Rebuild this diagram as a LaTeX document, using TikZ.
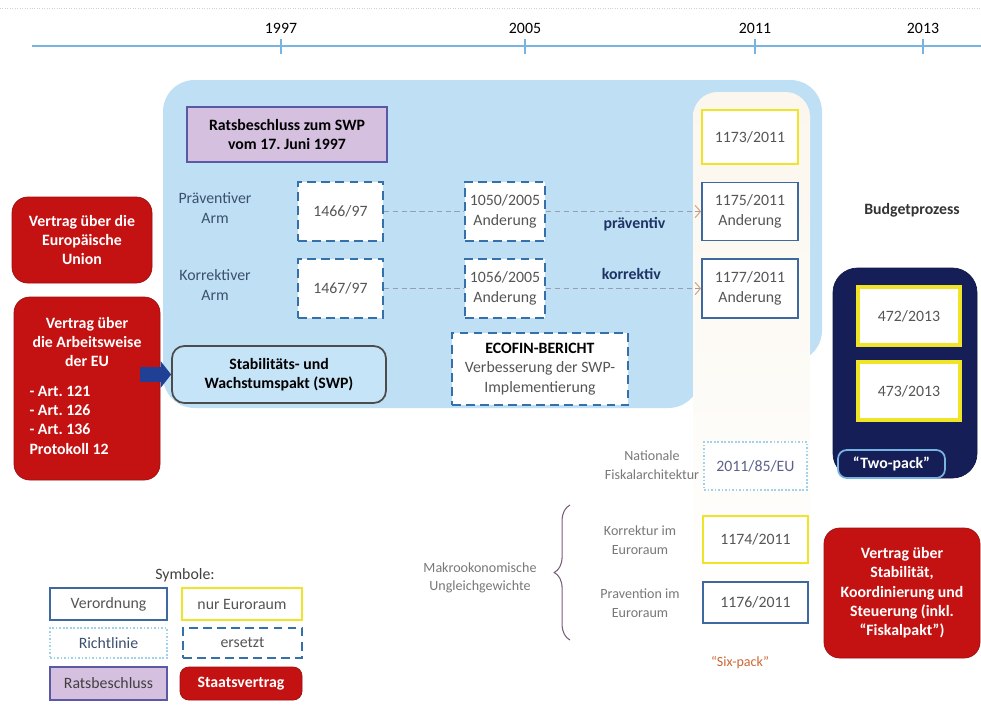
\documentclass[tikz,border=0pt]{standalone}
\usepackage{fontspec}
\setmainfont{Carlito}
\usetikzlibrary{arrows.meta, decorations.pathreplacing}

\definecolor{swpblue}{RGB}{190,223,244}
\definecolor{swpbox}{RGB}{198,228,248}
\definecolor{colbeige}{RGB}{250,243,230}
\definecolor{vored}{RGB}{196,18,18}
\definecolor{navy}{RGB}{22,30,88}
\definecolor{lilac}{RGB}{214,192,224}
\definecolor{vodraw}{RGB}{62,104,160}
\definecolor{euyellow}{RGB}{240,228,40}
\definecolor{rlcyan}{RGB}{160,210,235}
\definecolor{dashblue}{RGB}{52,112,170}
\definecolor{armtext}{RGB}{60,80,110}
\definecolor{boxtext}{RGB}{85,85,85}
\definecolor{softtext}{RGB}{120,120,120}
\definecolor{linkgray}{RGB}{150,158,178}
\definecolor{tipbrown}{RGB}{215,165,120}
\definecolor{arrowblue}{RGB}{32,64,150}
\definecolor{timeblue}{RGB}{120,180,225}
\definecolor{armlinktext}{RGB}{30,50,100}

\newcommand{\boxfont}{\fontsize{9}{11}\selectfont}
\newcommand{\smallboxfont}{\fontsize{8}{10.5}\selectfont}

\tikzset{
  sz/.style 2 args={minimum width=#1*0.02cm, minimum height=#2*0.02cm},
  verordnung/.style={draw=vodraw, line width=1pt, fill=white, text=boxtext, align=center, inner sep=1pt},
  euroraum/.style={draw=euyellow, line width=1.2pt, fill=white, text=boxtext, align=center, inner sep=1pt},
  richtlinie/.style={draw=rlcyan, line width=.8pt, dash pattern=on 1pt off 1pt, fill=white, align=center, inner sep=1pt},
  ersetzt/.style={draw=dashblue, line width=1.3pt, dash pattern=on 5pt off 3pt, fill=white, text=boxtext, align=center, inner sep=1pt},
  ratsb/.style={draw=gray!70!blue, line width=.6pt, fill=lilac, align=center, inner sep=1pt},
  vertrag/.style={draw=vored!80!black, fill=vored, rounded corners=9pt, text=white, align=center, font=\boxfont\bfseries},
  armlabel/.style={text=armtext, align=center},
  softlabel/.style={text=softtext, align=center, font=\smallboxfont},
  armlink/.style={text=armlinktext, font=\boxfont\bfseries, inner sep=1pt},
  replaced/.style={draw=linkgray, line width=.6pt, dash pattern=on 3pt off 2pt},
  timeline/.style={draw=timeblue, line width=.9pt},
}

\begin{document}
\frenchspacing
\begin{tikzpicture}[x=0.02cm, y=-0.02cm, font=\boxfont]
\useasboundingbox (0,0) rectangle (981,718);

% time axis
\draw[gray!35, densely dotted] (0,8) -- (981,8);
\draw[timeline] (32,46) -- (981,46);
\foreach \x/\yr in {281/1997, 525/2005, 755/2011, 923/2013}{
  \draw[timeline] (\x,39) -- (\x,54);
  \node (y\yr) at (\x,28) {\yr};
}

% background: SWP area and column of 2011
\fill[swpblue, rounded corners=18pt] (163,80) -- (822,80) -- (822,362) -- (700,362) -- (700,408) -- (163,408) -- cycle;
\shade[top color=colbeige!70, middle color=colbeige, bottom color=white, rounded corners=14pt] (693,92) rectangle (810,650);

% treaties
\node[vertrag, sz={140}{86}] (euv) at (82,240) {Vertrag über die\\Europäische\\Union};
\node[vertrag, sz={146}{183}] (aeuv) at (87,388.5)
  {Vertrag über\\die Arbeitsweise\\der EU\\[8pt]
   \makebox[2.3cm][l]{\begin{tabular}{@{}l@{}}- Art. 121\\- Art. 126\\- Art. 136\\Protokoll 12\end{tabular}}};
\node[vertrag, sz={156}{130}] (tscg) at (902,593)
  {Vertrag über\\Stabilität,\\Koordinierung und\\Steuerung (inkl.\\“Fiskalpakt”)};

% SWP
\node[ratsb, font=\boxfont\bfseries, sz={200}{55}] (rats) at (287,134.5) {Ratsbeschluss zum SWP\\vom 17. Juni 1997};
\node[armlabel] (praev) at (215,208) {Präventiver\\Arm};
\node[armlabel] (korr) at (215,285) {Korrektiver\\Arm};
\node[ersetzt, sz={85}{59}] (r1466) at (340.5,211.5) {1466/97};
\node[ersetzt, sz={85}{59}] (r1467) at (340.5,288.5) {1467/97};
\node[ersetzt, sz={80}{59}] (r1050) at (505,211.5) {1050/2005\\Anderung};
\node[ersetzt, sz={80}{59}] (r1056) at (505,288.5) {1056/2005\\Anderung};
\node[euroraum, sz={96}{54}] (r1173) at (750,137) {1173/2011};
\node[verordnung, sz={96}{58}] (r1175) at (750,211.5) {1175/2011\\Anderung};
\node[verordnung, sz={96}{59}] (r1177) at (750,288.5) {1177/2011\\Anderung};
\node[draw=gray!60!black, line width=1pt, fill=swpbox, rounded corners=7pt, font=\boxfont\bfseries, align=center, sz={214}{57}] (swp) at (279,374.5)
  {Stabilitäts- und\\Wachstumspakt (SWP)};
\node[ersetzt, sz={176}{72}, text=boxtext] (ecofin) at (540,369)
  {\textcolor{black}{\bfseries ECOFIN-BERICHT}\\Verbesserung der SWP-\\Implementierung};

\draw[replaced] (r1466) -- (r1050);
\draw[replaced] (r1467) -- (r1056);
\draw[replaced, -{Straight Barb[length=3pt, width=7pt, color=tipbrown]}] (r1050) -- (r1175)
  node[pos=.57, below=2pt, armlink] {präventiv};
\draw[replaced, -{Straight Barb[length=3pt, width=7pt, color=tipbrown]}] (r1056) -- (r1177)
  node[pos=.55, above=4pt, armlink] {korrektiv};

\coordinate (aeuvout) at (140,374.5);
\draw[arrowblue, line width=9pt, -{Triangle[length=6pt, width=15pt]}] (aeuvout) -- (swp.west);

% two-pack
\node[font=\boxfont\bfseries, text=black!80] (budget) at (912,210) {Budgetprozess};
\node[fill=navy, draw=navy!80!black, rounded corners=14pt, sz={144}{210}] (twopack) at (905,373) {};
\node[draw=euyellow, line width=2pt, fill=white, text=boxtext, sz={102}{58}] (r472) at (909,316) {472/2013};
\node[draw=euyellow, line width=2pt, fill=white, text=boxtext, sz={102}{58}] (r473) at (909,391) {473/2013};
\node[draw=timeblue, line width=1pt, fill=navy, text=white, rounded corners=5pt, font=\boxfont\bfseries, sz={107}{28}] (twolabel) at (891.5,464) {“Two-pack”};

% six-pack
\node[softlabel] (fiskal) at (652,465) {Nationale\\Fiskalarchitektur};
\node[richtlinie, text=navy!70, sz={103}{48}] (r85) at (755.5,466) {2011/85/EU};
\node[softlabel] (makro) at (480,578) {Makrookonomische\\Ungleichgewichte};
\node[softlabel] (korrEuro) at (640,540) {Korrektur im\\Euroraum};
\node[softlabel] (praevEuro) at (640,603) {Pravention im\\Euroraum};
\node[euroraum, sz={105}{47}] (r1174) at (755.5,539.5) {1174/2011};
\node[verordnung, sz={105}{41}] (r1176) at (755.5,602.5) {1176/2011};
\draw[softtext!80!violet, line width=.6pt, decorate, decoration={brace, amplitude=9pt}] (570,640) -- (570,505);
\node[text=brown!80!red, font=\smallboxfont] (sixpack) at (740,663) {“Six-pack”};

% legend
\node[text=black!75] (symb) at (185,575) {Symbole:};
\node[verordnung, sz={117}{32}] (lvo) at (108.5,604) {Verordnung};
\node[euroraum, sz={120}{32}] (leu) at (242,604) {nur Euroraum};
\node[richtlinie, text=armtext, sz={117}{30}] (lrl) at (108.5,643) {Richtlinie};
\node[ersetzt, sz={119}{30}] (ler) at (242.5,643) {ersetzt};
\node[ratsb, text=black!75, sz={117}{33}] (lrb) at (108.5,683.5) {Ratsbeschluss};
\node[vertrag, rounded corners=5pt, sz={122}{33}] (lsv) at (241,683.5) {Staatsvertrag};
\end{tikzpicture}
\end{document}
